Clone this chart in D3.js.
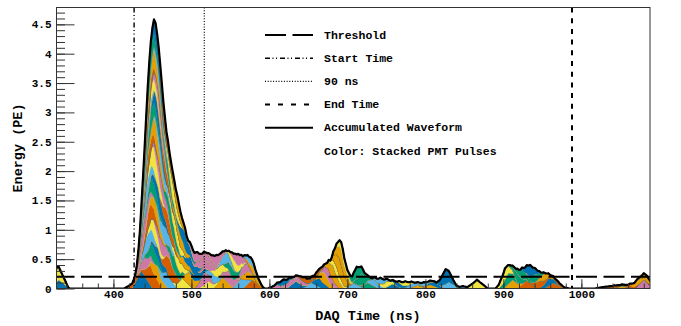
<!DOCTYPE html>
<html>
<head>
<meta charset="utf-8">
<script src="https://cdn.jsdelivr.net/npm/d3@7"></script>
<style>
  html, body { margin: 0; padding: 0; background: #fff; }
  svg { display: block; font-family: "Liberation Mono", "Courier New", monospace; font-weight: bold; }
</style>
</head>
<body>
<svg id="chart" width="681" height="326"></svg>
<script>
// ---------------- data ----------------
const palette = ["#0072B2", "#D55E00", "#E69F00", "#56B4E9", "#F0E442", "#CC79A7", "#009E73"];

// single PMT pulse shape, sampled every 2 ns (normalised to peak = 1)
const pulseShape = [0, .17, .33, .5, .67, .83, 1, .86, .71, .57, .43, .29, .14, 0];

// pulse start time (ns), peak amplitude (PE) and PMT channel
const pulseTime = [
  316, 318, 414,
  424, 426, 428, 428, 430, 430, 432, 432, 434, 434, 436, 436, 438, 438, 438, 440, 440,
  440, 442, 442, 442, 444, 444, 446, 446, 446, 448, 448, 450, 450, 452, 454, 454, 456,
  458, 458, 460, 462, 464, 466, 468, 470, 472, 474, 476, 478, 480, 486, 488, 494, 496, 500,
  504, 508, 510, 512, 516, 520, 524, 528, 532, 536, 540, 544, 548, 552, 556, 560, 564, 566, 568,
  598, 606, 614, 622, 628, 634, 642, 648,
  652, 658, 664, 670, 674, 678, 680, 682,
  696, 700, 706, 714,
  722, 730, 738, 746, 754, 762, 770, 778, 786, 794, 800,
  814, 818, 836, 854,
  890, 894, 900, 906, 912, 918, 922, 928, 934, 940, 946, 952, 958,
  1018, 1030, 1040, 1050, 1060, 1068, 1072
];
const pulseCharge = [
  .25, .15, .1,
  .3, .3, .25, .2, .3, .25, .3, .25, .35, .3, .3, .35, .25, .2, .25, .4, .3,
  .25, .35, .3, .25, .3, .25, .3, .25, .2, .3, .2, .25, .25, .3, .3, .25, .25,
  .3, .2, .35, .3, .3, .25, .25, .23, .2, .2, .18, .15, .28, .24, .2, .17, .15, .14,
  .22, .15, .12, .1, .15, .18, .18, .2, .2, .22, .18, .15, .2, .18, .17, .15, .12, .15, .12,
  .07, .09, .11, .13, .09, .09, .1, .08,
  .15, .2, .2, .25, .15, .3, .25, .15,
  .1, .2, .2, .1,
  .12, .1, .1, .08, .07, .07, .07, .06, .06, .07, .08,
  .25, .12, .04, .15,
  .19, .19, .15, .15, .15, .14, .19, .14, .13, .12, .12, .1, .05,
  .03, .04, .05, .05, .1, .15, .1
];
const pulsePmt = [
  4, 0, 1,
  0, 19, 38, 5, 24, 43, 10, 29, 48, 15, 34, 1, 20, 39, 6, 25, 44,
  11, 30, 49, 16, 35, 2, 21, 40, 7, 26, 45, 12, 31, 50, 17, 36, 3,
  22, 41, 8, 27, 46, 13, 32, 51, 18, 37, 4, 23, 42, 9, 28, 47, 14, 33,
  5, 19, 4, 33, 10, 47, 18, 2, 31, 12, 27, 39, 40, 3, 26, 9, 45, 1, 44,
  26, 49, 33, 21, 40, 43, 3, 50,
  7, 9, 12, 16, 25, 30, 44, 46,
  3, 48, 41, 13,
  17, 31, 18, 0, 28, 39, 10, 2, 45, 16, 21,
  35, 24, 31, 32,
  11, 6, 2, 20, 27, 1, 42, 34, 15, 23, 14, 8, 29,
  22, 29, 9, 36, 37, 5, 51
];

const threshold = 0.2;      // PE
const startTime = 426.5;    // ns
const promptWindow = 90;    // ns
const endTime = 988;        // ns

const xDomain = [327, 1088];
const yDomain = [0, 4.787];
const xTicks = [400, 500, 600, 700, 800, 900, 1000];
const yTicks = [0, 0.5, 1, 1.5, 2, 2.5, 3, 3.5, 4, 4.5];

const legendLabels = ["Threshold", "Start Time", "90 ns", "End Time", "Accumulated Waveform", "Color: Stacked PMT Pulses"];

// ---------------- layout ----------------
const svg = d3.select("#chart");
const plot = { left: 56.5, right: 650, top: 7.5, bottom: 288.5 };

const x = d3.scaleLinear().domain(xDomain).range([plot.left, plot.right]);
const y = d3.scaleLinear().domain(yDomain).range([plot.bottom, plot.top]);

// ---------------- build per-PMT waveforms and stack them ----------------
const tStep = 2, tMin = 300, tMax = 1100;
const nPmt = d3.max(pulsePmt) + 1;
const pmtKeys = d3.range(nPmt);
const rows = d3.range(tMin, tMax + tStep, tStep).map(t => {
  const r = { t };
  pmtKeys.forEach(k => { r[k] = 0; });
  return r;
});
pulseTime.forEach((t0, i) => {
  pulseShape.forEach((s, k) => {
    const idx = (t0 - tMin) / tStep + k;
    if (idx >= 0 && idx < rows.length) rows[idx][pulsePmt[i]] += pulseCharge[i] * s;
  });
});
const stacked = d3.stack().keys(pmtKeys)(rows);

svg.append("defs").append("clipPath").attr("id", "plotClip")
  .append("rect")
  .attr("x", plot.left).attr("y", plot.top)
  .attr("width", plot.right - plot.left).attr("height", plot.bottom - plot.top);

const g = svg.append("g").attr("clip-path", "url(#plotClip)");

const area = d3.area()
  .x(d => x(d.data.t))
  .y0(d => y(d[0]))
  .y1(d => y(d[1]));

g.selectAll("path.layer")
  .data(stacked)
  .join("path")
  .attr("class", "layer")
  .attr("d", area)
  .attr("fill", d => palette[d.key % palette.length])
  .attr("stroke", d => palette[d.key % palette.length])
  .attr("stroke-width", 0.4);

// baseline stripe
g.append("line")
  .attr("x1", plot.left).attr("x2", plot.right)
  .attr("y1", y(0) + 0.5).attr("y2", y(0) + 0.5)
  .attr("stroke", "#56B4E9").attr("stroke-width", 1.5);

// accumulated waveform = top of the stack
const sumLayer = stacked[stacked.length - 1];
g.append("path")
  .datum(sumLayer)
  .attr("d", d3.line().x(d => x(d.data.t)).y(d => y(d[1])))
  .attr("fill", "none")
  .attr("stroke", "#000")
  .attr("stroke-width", 2.2)
  .attr("stroke-linejoin", "round");

// threshold and time markers
const styles = {
  threshold: { dash: "21,6.5", width: 2 },
  start: { dash: "5,2.5,1,2.5,1,3", width: 1.4 },
  window: { dash: "1,1.7", width: 1.2 },
  end: { dash: "5,5.7", width: 2 },
  wave: { dash: null, width: 2 }
};

g.append("line")
  .attr("x1", plot.left).attr("x2", plot.right)
  .attr("y1", y(threshold)).attr("y2", y(threshold))
  .attr("stroke", "#000").attr("stroke-width", styles.threshold.width)
  .attr("stroke-dasharray", styles.threshold.dash)
  .attr("stroke-dashoffset", 3);

[[startTime, styles.start], [startTime + promptWindow, styles.window], [endTime, styles.end]]
  .forEach(([t, st]) => {
    g.append("line")
      .attr("x1", x(t)).attr("x2", x(t))
      .attr("y1", plot.top).attr("y2", plot.bottom)
      .attr("stroke", "#000").attr("stroke-width", st.width)
      .attr("stroke-dasharray", st.dash);
  });

// ---------------- frame and axes ----------------
svg.append("rect")
  .attr("x", plot.left).attr("y", plot.top)
  .attr("width", plot.right - plot.left).attr("height", plot.bottom - plot.top)
  .attr("fill", "none").attr("stroke", "#333").attr("stroke-width", 1);

const yMinor = d3.range(0, 48).map(i => i / 10);
const xMinor = d3.range(340, 1081, 20);

function tickAxis(axis, transform) {
  const a = svg.append("g").attr("transform", transform).call(axis);
  a.select(".domain").remove();
  a.selectAll("line").attr("stroke", "#333").attr("stroke-width", 1);
  return a;
}

// inward ticks
tickAxis(d3.axisRight(y).tickValues(yMinor).tickSize(8.5).tickFormat(""), `translate(${plot.left},0)`);
tickAxis(d3.axisRight(y).tickValues(yTicks).tickSize(18).tickFormat(""), `translate(${plot.left},0)`);
tickAxis(d3.axisTop(x).tickValues(xMinor).tickSize(5).tickFormat(""), `translate(0,${plot.bottom})`);
tickAxis(d3.axisTop(x).tickValues(xTicks).tickSize(9.3).tickFormat(""), `translate(0,${plot.bottom})`);

// tick labels
const yLab = tickAxis(d3.axisLeft(y).tickValues(yTicks).tickSize(0).tickPadding(5).tickFormat(d => String(d)),
  `translate(${plot.left},0)`);
yLab.selectAll("text").attr("font-size", 11).attr("fill", "#000");
yLab.attr("font-family", null).attr("font-size", null);

const xLab = tickAxis(d3.axisBottom(x).tickValues(xTicks).tickSize(0).tickPadding(2).tickFormat(d => String(d)),
  `translate(0,${plot.bottom})`);
xLab.selectAll("text").attr("font-size", 11).attr("fill", "#000");
xLab.attr("font-family", null).attr("font-size", null);

// axis titles
svg.append("text")
  .attr("x", 368).attr("y", 319.5)
  .attr("text-anchor", "middle").attr("font-size", 13.5)
  .text("DAQ Time (ns)");

svg.append("text")
  .attr("transform", "translate(22,148) rotate(-90)")
  .attr("text-anchor", "middle").attr("font-size", 13.5)
  .text("Energy (PE)");

// ---------------- legend ----------------
const legendStyles = [styles.threshold, styles.start, styles.window, { dash: "5,8", width: 2 }, styles.wave, null];
const leg = svg.append("g");
legendLabels.forEach((label, i) => {
  const base = 38.5 + i * 23.2;
  const st = legendStyles[i];
  if (st) {
    leg.append("line")
      .attr("x1", 265).attr("x2", 313)
      .attr("y1", base - 3.5).attr("y2", base - 3.5)
      .attr("stroke", "#000").attr("stroke-width", st.width)
      .attr("stroke-dasharray", st.dash);
  }
  leg.append("text")
    .attr("x", 324).attr("y", base)
    .attr("font-size", 11.5)
    .text(label);
});
</script>
</body>
</html>
